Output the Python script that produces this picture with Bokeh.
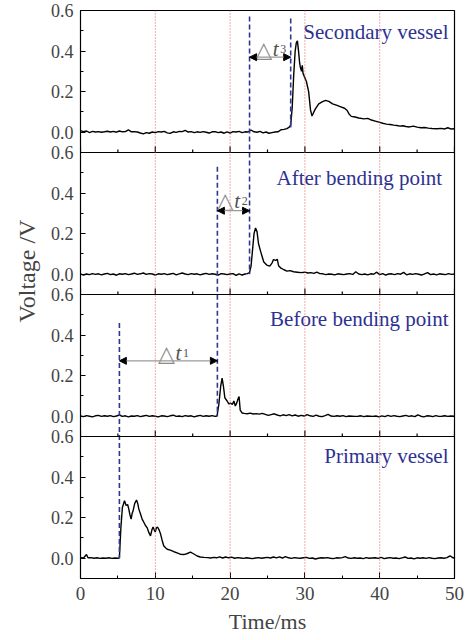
from bokeh.plotting import figure
from bokeh.models import (Range1d, FixedTicker, Span, Arrow, NormalHead, Title,
                          CustomJSTickFormatter)
from bokeh.core.properties import value
from bokeh.embed import file_html
from bokeh.resources import INLINE

# ---------------- data ----------------
panel_names = ["Primary vessel", "Before bending point", "After bending point", "Secondary vessel"]

t_primary = [0.0, 0.4, 0.8, 1.0, 1.4, 1.8, 2.2, 2.6, 3.0, 3.4,
             3.8, 4.2, 4.6, 5.0, 5.2, 5.4, 5.6, 5.88, 6.1, 6.3,
             6.46, 6.6, 6.77, 6.9, 7.03, 7.25, 7.49, 7.65, 7.8, 8.0,
             8.24, 8.5, 8.7, 8.9, 9.1, 9.36, 9.55, 9.7, 9.85, 10.0,
             10.15, 10.3, 10.5, 10.7, 10.9, 11.14, 11.4, 11.6, 12.0, 12.5,
             13.0, 13.4, 13.8, 14.2, 14.7, 15.1, 15.6, 16.0, 16.5, 17.0,
             17.4, 17.8, 18.2, 18.6, 19.0, 19.4, 19.8, 20.2, 20.6, 21.0,
             21.4, 21.8, 22.2, 22.6, 23.0, 23.4, 23.8, 24.2, 24.6, 25.0,
             25.4, 25.8, 26.2, 26.6, 27.0, 27.4, 27.8, 28.2, 28.6, 29.0,
             29.4, 29.8, 30.2, 30.6, 31.0, 31.4, 31.8, 32.2, 32.6, 33.0,
             33.4, 33.8, 34.2, 34.6, 35.0, 35.4, 35.8, 36.2, 36.6, 37.0,
             37.4, 37.8, 38.2, 38.6, 39.0, 39.4, 39.8, 40.2, 40.6, 41.0,
             41.4, 41.8, 42.2, 42.6, 43.0, 43.4, 43.8, 44.2, 44.6, 45.0,
             45.4, 45.8, 46.2, 46.6, 47.0, 47.4, 47.8, 48.2, 48.6, 49.0,
             49.4, 49.8, 50.0]
v_primary = [0.003, 0.001, 0.018, 0.002, 0.003, 0.000, 0.002, -0.001, 0.001, 0.000,
             0.002, -0.001, 0.001, 0.000, 0.002, 0.15, 0.25, 0.283, 0.26, 0.265,
             0.242, 0.215, 0.193, 0.22, 0.234, 0.27, 0.287, 0.27, 0.242, 0.22,
             0.193, 0.175, 0.16, 0.151, 0.13, 0.11, 0.14, 0.154, 0.14, 0.13,
             0.15, 0.154, 0.14, 0.12, 0.09, 0.06, 0.05, 0.044, 0.04, 0.032,
             0.025, 0.019, 0.018, 0.022, 0.03, 0.022, 0.011, 0.006, 0.004, 0.003,
             0.001, 0.004, 0.002, 0.007, 0.001, 0.006, 0.002, 0.005, 0.000, 0.003,
             0.001, -0.001, 0.002, 0.000, -0.002, 0.001, 0.003, 0.000, 0.002, 0.004,
             0.001, 0.006, 0.002, 0.007, 0.001, 0.008, 0.002, -0.001, 0.003, 0.001,
             0.000, 0.002, 0.004, -0.001, 0.001, -0.004, 0.000, 0.002, 0.001, 0.003,
             0.000, -0.002, 0.002, 0.001, 0.003, 0.008, 0.001, -0.001, 0.002, 0.000,
             0.001, -0.002, 0.003, 0.000, 0.001, 0.002, -0.001, 0.004, -0.002, 0.001,
             0.003, 0.000, 0.001, -0.002, 0.002, 0.006, -0.001, 0.001, -0.003, 0.002,
             0.000, 0.002, -0.001, 0.003, 0.000, -0.002, 0.001, 0.002, 0.000, 0.003,
             0.012, 0.002, 0.001]

t_before = [0.0, 0.4, 0.8, 1.2, 1.6, 2.0, 2.4, 2.8, 3.2, 3.6,
            4.0, 4.4, 4.8, 5.2, 5.6, 6.0, 6.4, 6.8, 7.2, 7.6,
            8.0, 8.4, 8.8, 9.2, 9.6, 10.0, 10.4, 10.8, 11.2, 11.6,
            12.0, 12.4, 12.8, 13.2, 13.6, 14.0, 14.4, 14.8, 15.2, 15.6,
            16.0, 16.4, 16.8, 17.2, 17.6, 18.0, 18.25, 18.5, 18.75, 18.93,
            19.1, 19.3, 19.6, 19.85, 20.05, 20.3, 20.5, 20.7, 20.9, 21.1,
            21.2, 21.35, 21.6, 21.9, 22.3, 22.7, 23.1, 23.5, 23.9, 24.3,
            24.7, 25.1, 25.5, 25.9, 26.3, 26.7, 27.1, 27.5, 27.9, 28.3,
            28.7, 29.1, 29.5, 29.9, 30.3, 30.7, 31.1, 31.5, 31.9, 32.3,
            32.7, 33.1, 33.5, 33.9, 34.3, 34.7, 35.1, 35.5, 35.9, 36.3,
            36.7, 37.1, 37.5, 37.9, 38.3, 38.7, 39.1, 39.5, 39.9, 40.3,
            40.7, 41.1, 41.5, 41.9, 42.3, 42.7, 43.1, 43.5, 43.9, 44.3,
            44.7, 45.1, 45.5, 45.9, 46.3, 46.7, 47.1, 47.5, 47.9, 48.3,
            48.7, 49.1, 49.5, 50.0]
v_before = [0.001, -0.002, 0.003, 0.000, -0.003, 0.002, 0.004, -0.001, 0.002, 0.000,
            0.003, -0.002, 0.001, 0.006, -0.001, 0.002, -0.003, 0.001, 0.000, 0.003,
            -0.002, 0.001, 0.004, -0.001, 0.002, 0.000, -0.003, 0.002, 0.001, -0.002,
            0.002, 0.005, -0.001, 0.001, -0.002, 0.003, 0.000, 0.002, -0.003, 0.001,
            0.004, -0.001, 0.002, 0.000, 0.003, -0.001, 0.001, 0.06, 0.15, 0.188,
            0.15, 0.09, 0.075, 0.06, 0.065, 0.058, 0.075, 0.05, 0.067, 0.09,
            0.097, 0.03, 0.016, 0.014, 0.012, 0.015, 0.011, 0.013, 0.010, 0.014,
            0.009, 0.004, 0.008, 0.012, 0.006, 0.002, 0.007, 0.003, 0.008, 0.002,
            0.006, 0.000, 0.004, 0.001, 0.008, 0.002, -0.001, 0.005, 0.000, -0.002,
            0.003, 0.009, 0.001, -0.001, 0.002, 0.000, 0.003, -0.002, 0.001, 0.000,
            -0.001, 0.000, 0.002, -0.002, 0.001, 0.000, -0.001, 0.001, -0.003, 0.002,
            -0.002, 0.004, -0.001, 0.003, 0.000, -0.002, 0.001, 0.004, -0.001, 0.002,
            -0.002, 0.007, 0.000, -0.003, 0.002, 0.001, -0.002, 0.003, -0.001, 0.000,
            0.002, -0.001, 0.001, 0.000]

t_after = [0.0, 0.4, 0.8, 1.2, 1.6, 2.0, 2.4, 2.8, 3.2, 3.6,
           4.0, 4.4, 4.8, 5.2, 5.6, 6.0, 6.4, 6.8, 7.2, 7.6,
           8.0, 8.4, 8.8, 9.2, 9.6, 10.0, 10.4, 10.8, 11.2, 11.6,
           12.0, 12.4, 12.8, 13.2, 13.6, 14.0, 14.4, 14.8, 15.2, 15.6,
           16.0, 16.4, 16.8, 17.2, 17.6, 18.0, 18.4, 18.8, 19.2, 19.6,
           20.0, 20.4, 20.8, 21.2, 21.6, 22.0, 22.3, 22.6, 22.8, 23.0,
           23.2, 23.4, 23.6, 23.8, 24.1, 24.5, 24.9, 25.3, 25.6, 25.8,
           26.1, 26.3, 26.5, 26.8, 27.2, 27.6, 28.0, 28.5, 29.0, 29.5,
           30.0, 30.4, 30.8, 31.2, 31.6, 32.0, 32.4, 32.8, 33.2, 33.6,
           34.0, 34.4, 34.8, 35.2, 35.6, 36.0, 36.4, 36.8, 37.2, 37.6,
           38.0, 38.4, 38.8, 39.2, 39.6, 40.0, 40.4, 40.8, 41.2, 41.6,
           42.0, 42.4, 42.8, 43.2, 43.6, 44.0, 44.4, 44.8, 45.2, 45.6,
           46.0, 46.4, 46.8, 47.2, 47.6, 48.0, 48.4, 48.8, 49.2, 49.6, 50.0]
v_after = [0.002, -0.004, 0.001, -0.002, 0.003, -0.001, 0.002, -0.003, 0.001, 0.004,
           -0.002, 0.001, -0.005, 0.002, 0.000, 0.003, -0.002, 0.001, 0.005, -0.001,
           0.002, 0.006, -0.001, 0.003, 0.001, -0.004, 0.002, 0.000, 0.003, -0.002,
           0.001, 0.004, -0.003, 0.002, 0.006, 0.001, -0.002, 0.003, 0.000, 0.002,
           -0.003, 0.001, 0.004, -0.001, 0.002, 0.000, -0.004, 0.003, 0.001, -0.002,
           0.001, 0.003, -0.006, 0.002, -0.004, 0.001, 0.003, 0.008, 0.04, 0.12,
           0.20, 0.228, 0.21, 0.15, 0.11, 0.06, 0.045, 0.04, 0.055, 0.072,
           0.068, 0.074, 0.04, 0.03, 0.022, 0.015, 0.018, 0.012, 0.010, 0.008,
           0.010, 0.006, 0.008, 0.004, 0.010, 0.003, 0.002, -0.002, 0.001, 0.000,
           -0.003, 0.002, 0.000, -0.002, 0.001, 0.003, -0.001, 0.012, 0.001, -0.002,
           0.001, -0.003, 0.002, 0.000, 0.010, -0.002, 0.003, -0.004, 0.001, 0.002,
           -0.002, 0.003, 0.000, 0.009, -0.003, 0.002, -0.001, 0.003, 0.000, -0.004,
           0.002, 0.008, -0.002, 0.001, -0.003, 0.002, 0.000, -0.002, 0.003, -0.001, 0.001]

t_secondary = [0.0, 0.4, 0.8, 1.2, 1.6, 2.0, 2.4, 2.8, 3.2, 3.6,
               4.0, 4.4, 4.8, 5.2, 5.6, 6.0, 6.4, 6.8, 7.2, 7.6,
               8.0, 8.4, 8.8, 9.2, 9.6, 10.0, 10.4, 10.8, 11.2, 11.6,
               12.0, 12.4, 12.8, 13.2, 13.6, 14.0, 14.4, 14.8, 15.2, 15.6,
               16.0, 16.4, 16.8, 17.2, 17.6, 18.0, 18.4, 18.8, 19.2, 19.6,
               20.0, 20.4, 20.8, 21.2, 21.6, 22.0, 22.4, 22.8, 23.2, 23.6,
               24.0, 24.4, 24.8, 25.2, 25.6, 26.0, 26.4, 26.8, 27.2, 27.6,
               27.9, 28.1, 28.3, 28.5, 28.7, 28.85, 29.0, 29.15, 29.3, 29.4,
               29.55, 29.65, 29.75, 30.2, 30.5, 30.75, 30.95, 31.2, 31.4, 31.85,
               32.3, 32.75, 33.2, 33.7, 34.3, 34.8, 35.3, 35.65, 35.9, 36.2,
               36.7, 37.2, 37.9, 38.4, 38.9, 39.4, 39.9, 40.4, 40.9, 41.4,
               41.9, 42.3, 42.7, 43.1, 43.5, 44.0, 44.5, 45.0, 45.5, 46.0,
               46.5, 47.0, 47.7, 48.2, 48.7, 49.1, 49.5, 50.0]
v_secondary = [0.008, 0.003, 0.006, -0.002, 0.004, 0.001, 0.003, 0.000, 0.002, 0.005,
               0.001, 0.004, 0.000, 0.006, 0.002, 0.003, 0.012, 0.002, 0.003, 0.001,
               -0.004, -0.008, -0.002, -0.005, 0.001, -0.002, 0.003, 0.001, 0.004, -0.003,
               -0.006, 0.002, -0.001, 0.004, 0.003, 0.009, 0.001, 0.003, -0.002, 0.002,
               -0.001, 0.003, 0.000, -0.004, 0.002, 0.003, -0.002, 0.001, -0.005, 0.002,
               -0.004, 0.003, 0.001, 0.004, -0.002, 0.002, 0.001, 0.011, 0.002, 0.000,
               0.004, -0.003, 0.001, -0.005, -0.002, 0.001, 0.002, 0.012, 0.014, 0.018,
               0.025, 0.035, 0.12, 0.28, 0.40, 0.44, 0.45, 0.40, 0.34, 0.32,
               0.30, 0.33, 0.29, 0.25, 0.20, 0.11, 0.08, 0.10, 0.115, 0.14,
               0.15, 0.157, 0.152, 0.14, 0.132, 0.125, 0.118, 0.107, 0.09, 0.078,
               0.075, 0.07, 0.066, 0.068, 0.06, 0.055, 0.05, 0.044, 0.04, 0.038,
               0.035, 0.033, 0.03, 0.032, 0.028, 0.026, 0.030, 0.025, 0.022, 0.023,
               0.02, 0.018, 0.017, 0.019, 0.016, 0.022, 0.016, 0.017]

series_t = [t_primary, t_before, t_after, t_secondary]
series_v = [v_primary, v_before, v_after, v_secondary]

# delay markers: time, (panel, voltage) of top end, (panel, voltage) of bottom end
marker_t = [5.2, 18.3, 22.6, 28.1]
marker_top = [(1, 0.46), (2, 0.53), (3, 0.57), (3, 0.56)]
marker_bottom = [(0, 0.0), (1, 0.0), (2, 0.0), (3, 0.02)]

# delay arrows: start, end, panel, voltage level
delay_labels = ["1", "2", "3"]
delay_start = [5.2, 18.3, 22.6]
delay_end = [18.3, 22.6, 28.1]
delay_panel = [1, 2, 3]
delay_level = [0.273, 0.313, 0.37]

y_ticks = [0.0, 0.2, 0.4, 0.6]
y_minor = [0.1, 0.3, 0.5]
x_ticks = [0, 10, 20, 30, 40, 50]
x_minor = [5, 15, 25, 35, 45]
ref_lines = [10, 20, 30, 40]

# ---------------- layout ----------------
OFF = 0.7      # vertical span of one panel (from -0.1 to 0.6)
YLO = -0.1
NP = 4
YHI = round(YLO + NP * OFF, 6) + 1e-9
SERIF = "Liberation Serif"
BLUE = "#2E3192"
FRAME_H = 568

p = figure(frame_width=374, frame_height=FRAME_H, min_border_left=80, min_border_right=16,
           min_border_top=10, min_border_bottom=62, output_backend="svg",
           toolbar_location=None, x_range=Range1d(0, 50),
           y_range=Range1d(YLO, YHI))
p.background_fill_color = "white"
p.border_fill_color = "white"
p.outline_line_color = "black"
p.outline_line_width = 1.2
p.grid.visible = False

# x axis
p.xaxis.ticker = FixedTicker(ticks=x_ticks, minor_ticks=x_minor)
p.xaxis.major_tick_in = 6
p.xaxis.major_tick_out = 0
p.xaxis.minor_tick_in = 3
p.xaxis.minor_tick_out = 0
p.xaxis.axis_label = "Time/ms"
p.xaxis.axis_label_text_font = SERIF
p.xaxis.axis_label_text_font_style = "normal"
p.xaxis.axis_label_text_font_size = "22px"
p.xaxis.axis_label_standoff = 6
p.xaxis.major_label_text_font = SERIF
p.xaxis.major_label_text_font_size = "19px"
p.xaxis.major_label_standoff = 8
p.xaxis.axis_line_color = "black"

# y axis: repeated 0.0..0.6 for each stacked panel
yt = [round(k * OFF + t, 2) for k in range(NP) for t in y_ticks]
ym = [round(k * OFF + t, 2) for k in range(NP) for t in y_minor]
p.yaxis.ticker = FixedTicker(ticks=yt, minor_ticks=ym)
p.yaxis.formatter = CustomJSTickFormatter(
    code="const r = Math.round(tick * 10) % 7; return (r / 10).toFixed(1);")
p.yaxis.major_tick_in = 5
p.yaxis.major_tick_out = 0
p.yaxis.minor_tick_in = 3
p.yaxis.minor_tick_out = 0
p.yaxis.major_label_text_font = SERIF
p.yaxis.major_label_text_font_size = "18px"
p.yaxis.major_label_standoff = 7
p.yaxis.axis_line_color = "black"

# shared y title on the left, positioned along the stacked panels
ytitle = Title(text="Voltage /V", align="left", offset=FRAME_H - (322 - 10),
               text_font=SERIF, text_font_size="24px", text_font_style="normal",
               standoff=15)
p.add_layout(ytitle, "left")

# panel separators and inner x ticks
bounds = [k * OFF + 0.6 for k in range(NP - 1)]
for b in bounds:
    p.add_layout(Span(location=b, dimension="width", line_color="black", line_width=1.2))
px_per_v = FRAME_H / (NP * OFF)
maj_len = 6 / px_per_v
min_len = 3 / px_per_v
for b in bounds:
    p.segment(x0=x_ticks, y0=[b] * len(x_ticks), x1=x_ticks, y1=[b + maj_len] * len(x_ticks),
              line_color="black", line_width=1.2)
    p.segment(x0=x_minor, y0=[b] * len(x_minor), x1=x_minor, y1=[b + min_len] * len(x_minor),
              line_color="black", line_width=1.2)

# red dotted reference lines
for x in ref_lines:
    p.add_layout(Span(location=x, dimension="height", line_color="#DD5A5A",
                      line_dash="1 2", line_width=1))

# signals
for k in range(NP):
    p.line(series_t[k], [v + k * OFF for v in series_v[k]], line_color="black", line_width=1.4)

# blue dashed delay markers
for x, (kt, vt), (kb, vb) in zip(marker_t, marker_top, marker_bottom):
    p.segment(x0=[x], y0=[kt * OFF + vt], x1=[x], y1=[kb * OFF + vb],
              line_color="#2B3990", line_width=1.6, line_dash="5 3")

# delay arrows and labels
tri_x = [11.5, 19.35, 24.5]
lab_dy = [0.037, 0.05, 0.04]
for lab, xs, xe, k, lv, tx, dy in zip(delay_labels, delay_start, delay_end, delay_panel,
                                      delay_level, tri_x, lab_dy):
    y = k * OFF + lv
    p.add_layout(Arrow(x_start=xs, y_start=y, x_end=xe, y_end=y,
                       line_color="#9a9a9a", line_width=1.2,
                       start=NormalHead(size=7, fill_color="black", line_color="black"),
                       end=NormalHead(size=7, fill_color="black", line_color="black")))
    p.text(x=[tx], y=[y + dy], text=["△"], text_align="center",
           text_baseline="alphabetic", text_font=value("DejaVu Sans"),
           text_font_size="22px", text_color="#8c8c8c")
    p.text(x=[tx + 1.2], y=[y + dy], text=["t"], text_align="left",
           text_baseline="alphabetic", text_font=value(SERIF), text_font_style="italic",
           text_font_size="21px", text_color="#505050")
    p.text(x=[tx + 2.2], y=[y + dy], text=[lab], text_align="left",
           text_baseline="alphabetic", text_font=value(SERIF),
           text_font_size="12px", text_color="#505050")

# panel names
name_x = [49.2, 49.2, 48.35, 49.2]
name_v = [0.506, 0.48, 0.475, 0.493]
p.text(x=name_x, y=[k * OFF + name_v[k] for k in range(NP)], text=panel_names,
       text_align="right", text_baseline="alphabetic", text_font=value(SERIF),
       text_font_size="21px", text_color=BLUE)

open("out.html", "w").write(file_html(p, INLINE))
